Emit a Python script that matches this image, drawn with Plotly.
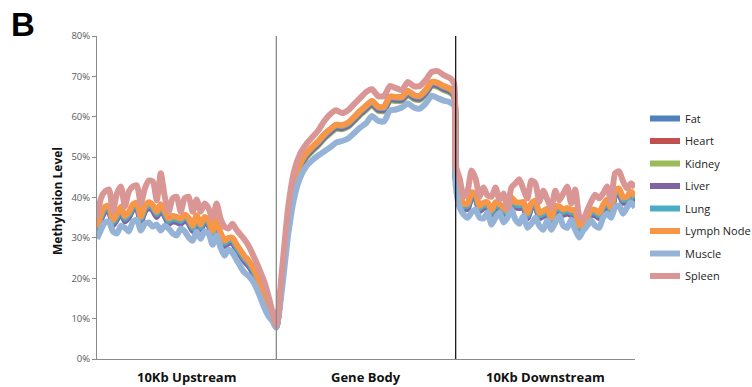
import plotly.graph_objects as go

# ---- x grid: upstream bins 0..45, gene body 45..90, downstream 90..135 ----
X_UP = list(range(46))
X_GB = [46.5 + 1.5 * i for i in range(29)] + [89.6]
X_DN = list(range(90, 136))

REGION_LABELS = ["10Kb Upstream", "Gene Body", "10Kb Downstream"]
REGION_CENTERS = [22.5, 67.5, 112.5]
REGION_BOUNDS = [45, 90]

Y_TICKS = [0, 10, 20, 30, 40, 50, 60, 70, 80]
Y_TICK_TEXT = ["0%", "10%", "20%", "30%", "40%", "50%", "60%", "70%", "80%"]

SERIES = ["Fat", "Heart", "Kidney", "Liver", "Lung", "Lymph Node", "Muscle", "Spleen"]
COLORS = ["#4F81BD", "#C0504D", "#9BBB59", "#8064A2", "#4BACC6", "#F79646", "#95B3D7", "#D99694"]

# ---- methylation level (%) ----
FAT_UP = [31.8,35.1,36.9,37.2,33.6,35.1,36.9,34.6,35.6,37.5,37.9,34.5,37.0,38.0,37.3,35.7,37.5,35.9,34.0,34.6,34.4,34.0,34.9,34.1,32.2,34.8,32.5,34.4,33.6,30.9,33.8,30.5,28.5,29.2,29.2,27.6,26.1,24.7,23.6,22.1,20.1,17.8,15.3,12.7,10.3,8.0]
HEART_UP = [32.2,35.5,37.3,37.6,34.0,35.5,37.3,35.0,36.0,37.9,38.3,34.9,37.4,38.4,37.7,36.1,37.9,36.3,34.4,35.0,34.8,34.4,35.3,34.5,32.6,35.2,32.9,34.8,34.0,31.3,34.2,30.9,28.9,29.6,29.6,28.0,26.5,25.1,24.0,22.5,20.5,18.2,15.7,13.1,10.6,8.3]
KIDNEY_UP = [31.5,34.8,36.6,36.9,33.3,34.8,36.6,34.3,35.3,37.2,37.6,34.2,36.7,37.7,37.0,35.4,37.2,35.6,33.7,34.3,34.1,33.7,34.6,33.8,31.9,34.5,32.2,34.1,33.3,30.6,33.5,30.2,28.2,28.9,28.9,27.3,25.8,24.4,23.3,21.8,19.8,17.5,15.0,12.4,10.0,7.9]
LIVER_UP = [31.3,34.6,36.4,36.7,33.1,34.6,36.4,34.1,35.1,37.0,37.4,34.0,36.5,37.5,36.8,35.2,37.0,35.4,33.5,34.1,33.9,33.5,34.4,33.6,31.7,34.3,32.0,33.9,33.1,30.4,33.3,30.0,28.0,28.7,28.7,27.1,25.6,24.2,23.1,21.6,19.6,17.3,14.8,12.2,9.8,7.9]
LUNG_UP = [32.0,35.3,37.1,37.4,33.8,35.3,37.1,34.8,35.8,37.7,38.1,34.7,37.2,38.2,37.5,35.9,37.7,36.1,34.2,34.8,34.6,34.2,35.1,34.3,32.4,35.0,32.7,34.6,33.8,31.1,34.0,30.7,28.7,29.4,29.4,27.8,26.3,24.9,23.8,22.3,20.3,18.0,15.5,12.9,10.5,8.1]
LYMPH_UP = [32.6,35.9,37.7,38.0,34.4,35.9,37.7,35.4,36.4,38.3,38.7,35.3,37.8,38.8,38.1,36.5,38.3,36.7,34.8,35.4,35.2,34.8,35.7,34.9,33.0,35.6,33.3,35.2,34.4,31.7,34.6,31.3,29.3,30.0,30.0,28.4,26.9,25.5,24.4,22.9,20.9,18.6,16.1,13.5,11.0,8.4]
MUSCLE_UP = [29.8,32.0,33.8,34.0,31.6,31.1,33.0,32.5,31.6,34.0,34.5,31.8,33.5,33.8,32.8,33.3,31.8,33.0,32.3,31.1,30.6,32.3,31.6,30.1,29.3,31.6,29.8,31.6,31.1,28.3,30.6,27.6,25.6,27.1,26.3,24.6,22.9,21.4,20.6,19.4,17.6,15.2,12.7,10.7,9.4,7.8]
SPLEEN_UP = [34.8,39.8,41.5,42.0,36.5,41.0,42.7,37.8,41.5,42.7,43.0,38.5,42.2,44.2,44.0,39.3,46.0,40.2,36.5,39.8,40.2,36.5,39.8,40.2,36.5,39.5,36.5,38.5,37.3,34.8,38.5,34.8,32.8,32.3,33.5,32.0,30.8,29.6,28.1,26.1,23.9,21.6,19.1,15.7,11.7,8.2]

FAT_GB = [20.5,34.4,43.4,48.0,50.5,52.1,53.5,55.2,56.5,57.6,57.5,58.1,59.5,61.0,62.3,63.5,62.1,62.0,64.6,64.5,64.5,66.0,65.0,64.8,66.2,68.2,68.0,67.2,66.6,65.6]
HEART_GB = [20.8,34.7,43.7,48.3,50.8,52.4,53.8,55.5,56.8,57.9,57.8,58.4,59.8,61.3,62.6,63.8,62.4,62.3,64.9,64.8,64.8,66.3,65.3,65.1,66.5,68.5,68.3,67.5,66.9,65.9]
KIDNEY_GB = [19.9,33.8,42.8,47.4,49.9,51.5,52.9,54.6,55.9,57.0,56.9,57.5,58.9,60.4,61.7,62.9,61.5,61.4,64.0,63.9,63.9,65.4,64.4,64.2,65.6,67.6,67.4,66.6,66.0,65.0]
LIVER_GB = [20.2,34.1,43.1,47.7,50.2,51.8,53.2,54.9,56.2,57.3,57.2,57.8,59.2,60.7,62.0,63.2,61.8,61.7,64.3,64.2,64.2,65.7,64.7,64.5,65.9,67.9,67.7,66.9,66.3,65.3]
LUNG_GB = [20.7,34.6,43.6,48.2,50.7,52.3,53.7,55.4,56.7,57.8,57.7,58.3,59.7,61.2,62.5,63.7,62.3,62.2,64.8,64.7,64.7,66.2,65.2,65.0,66.4,68.4,68.2,67.4,66.8,65.8]
LYMPH_GB = [20.9,34.8,43.8,48.4,50.9,52.5,53.9,55.6,56.9,58.0,57.9,58.5,59.9,61.4,62.7,63.9,62.5,62.4,65.0,64.9,64.9,66.4,65.4,65.2,66.6,68.6,68.4,67.6,67.0,66.0]
MUSCLE_GB = [18.0,31.0,40.0,45.0,47.7,49.2,50.4,51.4,52.4,53.6,54.0,54.6,55.9,57.3,58.4,60.2,59.0,58.8,61.5,61.8,62.3,63.3,62.3,62.0,63.3,65.2,64.6,64.0,63.6,62.8]
SPLEEN_GB = [22.9,37.8,46.7,50.9,53.2,54.9,56.6,58.9,60.6,61.6,60.9,61.6,63.1,64.6,66.1,66.8,65.1,65.1,67.6,67.1,66.6,68.6,67.6,67.6,69.1,71.1,71.3,70.3,69.6,68.3]

FAT_DN = [45.0,40.4,37.6,37.7,40.5,40.1,37.1,37.9,38.0,36.1,38.0,37.6,36.7,35.9,39.2,38.1,37.9,38.1,35.4,37.8,38.4,35.4,35.9,36.4,34.2,37.0,37.0,36.2,36.6,36.1,36.0,32.3,32.9,34.5,36.2,36.1,35.4,37.4,38.7,36.6,40.9,41.4,39.2,39.4,40.7,39.5]
HEART_DN = [45.4,40.8,38.0,38.1,40.9,40.5,37.5,38.3,38.4,36.5,38.4,38.0,37.1,36.3,39.6,38.5,38.3,38.5,35.8,38.2,38.8,35.8,36.3,36.8,34.6,37.4,37.4,36.6,37.0,36.5,36.4,32.7,33.3,34.9,36.6,36.5,35.8,37.8,39.1,37.0,41.3,41.8,39.6,39.8,41.1,39.9]
KIDNEY_DN = [44.7,40.1,37.3,37.4,40.2,39.8,36.8,37.6,37.7,35.8,37.7,37.3,36.4,35.6,38.9,37.8,37.6,37.8,35.1,37.5,38.1,35.1,35.6,36.1,33.9,36.7,36.7,35.9,36.3,35.8,35.7,32.0,32.6,34.2,35.9,35.8,35.1,37.1,38.4,36.3,40.6,41.1,38.9,39.1,40.4,39.2]
LIVER_DN = [44.5,39.9,37.1,37.2,40.0,39.6,36.6,37.4,37.5,35.6,37.5,37.1,36.2,35.4,38.7,37.6,37.4,37.6,34.9,37.3,37.9,34.9,35.4,35.9,33.7,36.5,36.5,35.7,36.1,35.6,35.5,31.8,32.4,34.0,35.7,35.6,34.9,36.9,38.2,36.1,40.4,40.9,38.7,38.9,40.2,39.0]
LUNG_DN = [45.2,40.6,37.8,37.9,40.7,40.3,37.3,38.1,38.2,36.3,38.2,37.8,36.9,36.1,39.4,38.3,38.1,38.3,35.6,38.0,38.6,35.6,36.1,36.6,34.4,37.2,37.2,36.4,36.8,36.3,36.2,32.5,33.1,34.7,36.4,36.3,35.6,37.6,38.9,36.8,41.1,41.6,39.4,39.6,40.9,39.7]
LYMPH_DN = [45.8,41.2,38.4,38.5,41.3,40.9,37.9,38.7,38.8,36.9,38.8,38.4,37.5,36.7,40.0,38.9,38.7,38.9,36.2,38.6,39.2,36.2,36.7,37.2,35.0,37.8,37.8,37.0,37.4,36.9,36.8,33.1,33.7,35.3,37.0,36.9,36.2,38.2,39.5,37.4,41.7,42.2,40.0,40.2,41.5,40.3]
MUSCLE_DN = [43.0,37.5,35.8,35.0,36.3,37.0,35.0,34.8,36.3,33.3,35.0,36.3,33.8,35.0,37.0,34.5,33.5,35.5,32.5,33.5,35.0,33.0,32.0,34.3,32.0,33.8,35.5,33.0,32.5,34.5,32.0,30.1,31.8,33.0,34.3,33.0,32.5,35.0,36.0,35.0,37.5,38.0,36.0,37.5,38.8,37.5]
SPLEEN_DN = [48.0,44.7,40.2,41.7,46.7,44.7,40.2,42.5,40.5,40.2,42.5,39.5,41.0,37.3,42.5,43.5,44.5,42.0,39.8,44.2,43.5,39.0,41.7,39.5,37.5,41.7,39.3,41.0,42.7,38.5,42.0,35.5,34.5,36.8,39.0,40.7,39.8,41.0,42.7,39.0,46.0,46.5,44.0,42.2,43.5,42.5]

PARTS = [
    (FAT_UP, FAT_GB, FAT_DN),
    (HEART_UP, HEART_GB, HEART_DN),
    (KIDNEY_UP, KIDNEY_GB, KIDNEY_DN),
    (LIVER_UP, LIVER_GB, LIVER_DN),
    (LUNG_UP, LUNG_GB, LUNG_DN),
    (LYMPH_UP, LYMPH_GB, LYMPH_DN),
    (MUSCLE_UP, MUSCLE_GB, MUSCLE_DN),
    (SPLEEN_UP, SPLEEN_GB, SPLEEN_DN),
]

X_ALL = X_UP + X_GB + X_DN

fig = go.Figure()
for name, color, (up, gb, dn) in zip(SERIES, COLORS, PARTS):
    fig.add_trace(go.Scatter(
        x=X_ALL, y=up + gb + dn, mode="lines", name=name,
        legendgroup=name,
        line=dict(color=color, width=6, shape="spline", smoothing=0.6),
    ))

PLOT_L, PLOT_R, PLOT_T, PLOT_B = 97, 635, 36, 359
W, H = 752, 387

shapes = []
for xb, col in zip(REGION_BOUNDS, ["#8a8a8a", "#1a1a1a"]):
    shapes.append(dict(type="line", xref="x", yref="y", x0=xb, x1=xb, y0=0, y1=80,
                       line=dict(color=col, width=1.3), layer="above"))

annotations = []
for lab, xc in zip(REGION_LABELS, REGION_CENTERS):
    annotations.append(dict(x=xc, xref="x", y=0, yref="paper", yanchor="top", yshift=-7,
                            text="<b>" + lab + "</b>", showarrow=False,
                            font=dict(family="Open Sans", size=13, color="#111111")))
pw = PLOT_R - PLOT_L
ph = PLOT_B - PLOT_T
annotations.append(dict(x=(57 - PLOT_L) / pw, xref="paper", y=(PLOT_B - 201) / ph, yref="paper",
                        text="<b>Methylation Level</b>", textangle=-90, showarrow=False,
                        xanchor="center", yanchor="middle",
                        font=dict(family="Open Sans", size=12, color="#111111")))
annotations.append(dict(x=(9 - PLOT_L) / pw, xref="paper", y=(PLOT_B - 4) / ph, yref="paper",
                        text="<b>B</b>", showarrow=False, xanchor="left", yanchor="top",
                        font=dict(family="Liberation Sans", size=33, color="#000000")))

fig.update_layout(
    width=W, height=H,
    margin=dict(l=PLOT_L, r=W - PLOT_R, t=PLOT_T, b=H - PLOT_B, autoexpand=False),
    paper_bgcolor="white", plot_bgcolor="white",
    showlegend=True,
    legend=dict(xref="container", yref="container", x=645 / W, xanchor="left",
                y=1 - 104 / H, yanchor="top",
                font=dict(family="Open Sans", size=11, color="#222222"),
                itemwidth=30, tracegroupgap=3.5, bgcolor="rgba(0,0,0,0)"),
    xaxis=dict(range=[0, 135], showgrid=False, zeroline=False, showticklabels=False,
               showline=True, linecolor="#8a8a8a", linewidth=1, ticks=""),
    yaxis=dict(range=[0, 80], tickmode="array", tickvals=Y_TICKS, ticktext=Y_TICK_TEXT,
               showgrid=False, zeroline=False,
               showline=True, linecolor="#8a8a8a", linewidth=1, ticks="outside", ticklen=4,
               tickcolor="#8a8a8a",
               tickfont=dict(family="Open Sans", size=9.5, color="#595959")),
    shapes=shapes, annotations=annotations,
)

fig.write_html("out.html", config={"displayModeBar": False},
               post_script="document.body.style.margin='0';document.body.style.overflow='hidden';")
